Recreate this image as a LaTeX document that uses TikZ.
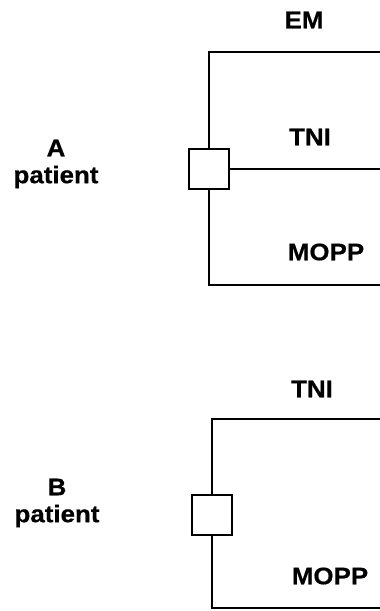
\documentclass[tikz,border=0pt]{standalone}
\usepackage{fontspec}
\setmainfont{Liberation Sans}[FakeStretch=1.08,BoldFeatures={FakeBold=0.6}]

\tikzset{
  lbl/.style={font=\fontsize{24}{26}\selectfont\bfseries, inner sep=0pt},
  sqbox/.style={draw, line width=2pt, fill=white, minimum width=40pt, minimum height=40pt, inner sep=0pt},
  arm/.style={line width=2pt}
}

\begin{document}
\begin{tikzpicture}[x=1pt,y=-1pt]
    % Fix the page size
    \useasboundingbox (0,0) rectangle (380,611);

    % Panel A
    \node[lbl] (labA) at (56,148) {A};
    \node[lbl] (patA) at (56,177) {patient};
    \node[lbl] (em) at (304,20) {EM};
    \node[lbl] (tniA) at (310,137) {TNI};
    \node[lbl] (moppA) at (326,252) {MOPP};

    \node[sqbox] (sqA) at (209,169) {};
    \coordinate (topA) at (209,52);
    \coordinate (topendA) at (381,52);
    \coordinate (midendA) at (381,169);
    \coordinate (botA) at (209,285);
    \coordinate (botendA) at (381,285);

    \draw[arm] (sqA.north) -- (topA) -- (topendA);
    \draw[arm] (sqA.east) -- (midendA);
    \draw[arm] (sqA.south) -- (botA) -- (botendA);

    % Panel B
    \node[lbl] (labB) at (57,487) {B};
    \node[lbl] (patB) at (57,516) {patient};
    \node[lbl] (tniB) at (312,389) {TNI};
    \node[lbl] (moppB) at (330,576) {MOPP};

    \node[sqbox] (sqB) at (212,515) {};
    \coordinate (topB) at (212,419);
    \coordinate (topendB) at (381,419);
    \coordinate (botB) at (212,608);
    \coordinate (botendB) at (381,608);

    \draw[arm] (sqB.north) -- (topB) -- (topendB);
    \draw[arm] (sqB.south) -- (botB) -- (botendB);
\end{tikzpicture}
\end{document}
